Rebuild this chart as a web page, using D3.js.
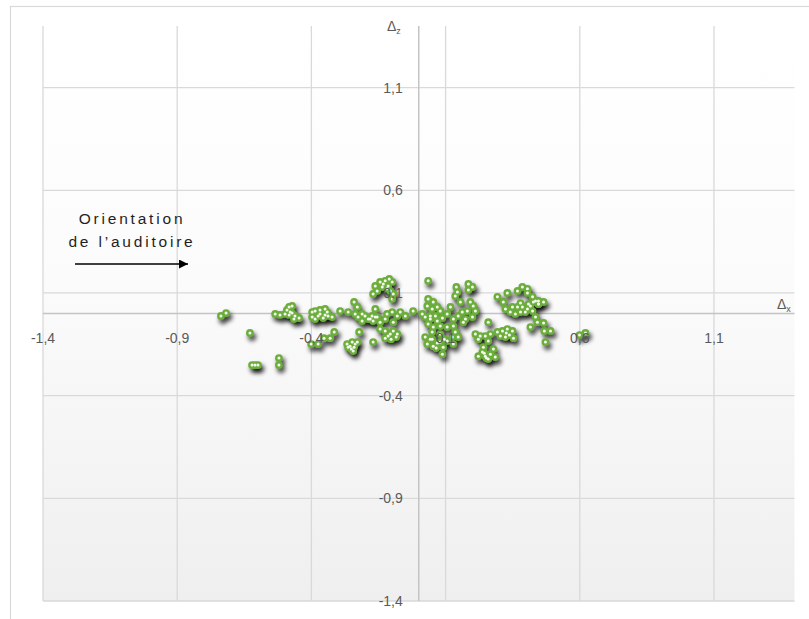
<!DOCTYPE html>
<html>
<head>
<meta charset="utf-8">
<script src="https://cdn.jsdelivr.net/npm/d3@7"></script>
<style>
  html, body { margin: 0; padding: 0; background: #ffffff; }
  svg { display: block; }
</style>
</head>
<body>
<svg id="chart" width="809" height="619"></svg>
<script>
// ---- data (Δx, Δz) ----
const dx = [
  -0.737,-0.718,-0.629,-0.621,-0.610,-0.599,-0.521,-0.521,-0.535,-0.517,
  -0.483,-0.472,-0.491,-0.479,-0.483,-0.465,-0.446,-0.498,
  -0.397,-0.386,-0.368,-0.349,-0.341,-0.386,-0.356,-0.338,-0.323,-0.375,-0.397,
  -0.293,-0.263,-0.401,-0.375,-0.353,-0.330,-0.315,-0.267,-0.248,-0.229,-0.241,
  -0.244,-0.263,-0.222,-0.170,
  -0.241,-0.229,-0.237,-0.226,-0.211,-0.200,-0.188,-0.174,-0.162,-0.170,-0.211,
  -0.155,-0.144,-0.125,-0.118,-0.099,-0.080,-0.095,-0.144,-0.125,-0.095,-0.125,
  -0.103,-0.084,-0.080,
  -0.162,-0.144,-0.125,-0.110,-0.099,-0.114,-0.136,-0.155,-0.170,-0.095,-0.099,
  -0.069,-0.050,-0.021,0.035,0.035,0.054,0.032,0.050,0.069,0.080,0.013,0.024,
  0.043,0.062,0.088,0.106,0.118,0.129,0.147,0.162,0.155,0.181,0.192,0.203,0.211,
  0.200,0.174,0.166,0.035,0.054,0.080,0.106,0.129,0.050,0.080,0.024,0.043,0.032,
  0.054,0.080,0.106,0.125,0.136,0.147,0.129,0.091,0.088,0.140,0.144,0.185,0.200,
  0.185,0.136,0.259,
  0.211,0.229,0.222,0.248,0.267,0.259,0.241,0.237,0.222,0.248,0.267,0.278,0.259,
  0.368,0.386,0.405,0.405,0.424,0.446,0.465,0.446,0.427,0.416,0.405,0.386,0.368,
  0.349,0.323,0.315,0.330,0.293,0.341,0.360,0.379,0.397,0.424,0.435,0.442,0.465,
  0.468,0.491,0.472,0.416,0.293,0.312,0.330,0.349,0.304,0.323,0.353,0.285,
  0.599,0.621,
  -0.256,-0.237,-0.251,-0.132,-0.118,-0.106,0.050,0.069,0.095,0.065,
  0.244,0.252,0.435,0.446,0.409,0.379,0.326,0.338,-0.106,-0.114,
  -0.368,-0.349,-0.472,-0.461,-0.162,-0.181,0.043,0.069
];
const dz = [
  -0.012,0.002,-0.095,-0.251,-0.251,-0.251,-0.217,-0.251,-0.002,-0.007,
  0.032,0.037,0.017,0.007,-0.007,-0.027,-0.022,-0.002,
  0.007,0.012,0.017,0.022,0.007,-0.027,-0.022,-0.012,-0.017,-0.012,-0.017,
  0.012,0.007,-0.149,-0.149,-0.120,-0.120,-0.090,-0.149,-0.139,-0.139,-0.164,
  -0.183,-0.164,-0.090,-0.139,
  0.056,0.032,-0.002,-0.017,-0.037,-0.012,-0.027,-0.012,0.022,-0.037,-0.002,
  -0.017,-0.042,-0.027,-0.002,0.007,-0.012,-0.042,-0.076,-0.085,-0.085,-0.120,
  -0.125,-0.115,-0.100,
  0.134,0.154,0.159,0.168,0.154,0.134,0.129,0.110,0.095,0.095,0.071,
  0.007,-0.012,0.012,0.159,0.071,0.056,0.037,0.022,0.032,0.012,-0.002,-0.017,
  -0.012,-0.012,-0.022,-0.002,0.032,-0.027,-0.012,0.007,0.056,0.012,0.056,0.037,0.012,
  -0.017,-0.027,-0.042,-0.051,-0.066,-0.061,-0.066,-0.061,-0.090,-0.100,-0.115,-0.125,-0.149,
  -0.159,-0.139,-0.134,-0.115,-0.090,-0.115,-0.149,-0.164,-0.198,0.129,0.105,0.144,0.129,
  0.115,0.085,-0.042,
  -0.100,-0.110,-0.125,-0.110,-0.100,-0.134,-0.164,-0.188,-0.208,-0.208,-0.198,-0.173,-0.222,
  0.110,0.129,0.120,0.100,0.081,0.061,0.056,0.046,0.056,0.037,0.022,0.032,0.032,
  0.032,0.022,0.056,0.100,0.081,0.007,-0.002,0.007,0.007,0.012,-0.017,-0.042,-0.046,
  -0.085,-0.085,-0.139,-0.066,-0.090,-0.085,-0.076,-0.085,-0.110,-0.115,-0.120,-0.212,
  -0.105,-0.095,
  -0.159,-0.149,-0.173,0.144,0.120,0.110,-0.125,-0.144,-0.125,-0.168,
  -0.193,-0.217,0.061,0.046,0.046,0.051,-0.095,-0.105,-0.100,-0.110,
  -0.002,-0.007,0.002,-0.012,-0.017,-0.027,-0.027,-0.037
];
const tickValues = [-1.4, -0.9, -0.4, 0.1, 0.6, 1.1];
const xDomain = [-1.4, 1.4];
const yDomain = [-1.4, 1.4];
const annotationLines = ["Orientation", "de l\u2019auditoire"];

// ---- layout ----
const svg = d3.select("#chart");
const plot = { left: 43, right: 794.5, top: 26, bottom: 601 };
const x = d3.scaleLinear().domain(xDomain).range([plot.left, plot.right]);
const y = d3.scaleLinear().domain(yDomain).range([plot.bottom, plot.top]);
const locale = d3.formatLocale({decimal: ",", thousands: " ", grouping: [3], currency: ["", ""], minus: "-"});
const fmt = locale.format(".1f");

const defs = svg.append("defs");
const grad = defs.append("linearGradient").attr("id", "bg").attr("x1", 0).attr("y1", 0).attr("x2", 0).attr("y2", 1);
grad.append("stop").attr("offset", "0%").attr("stop-color", "#ffffff");
grad.append("stop").attr("offset", "45%").attr("stop-color", "#fbfbfb");
grad.append("stop").attr("offset", "100%").attr("stop-color", "#efefef");
const blur = defs.append("filter").attr("id", "shadow").attr("x", "-50%").attr("y", "-50%").attr("width", "200%").attr("height", "200%");
blur.append("feGaussianBlur").attr("stdDeviation", 2);

// outer chart border
svg.append("rect").attr("x", 10.5).attr("y", 6.5).attr("width", 820).attr("height", 640)
  .attr("fill", "#ffffff").attr("stroke", "#d9d9d9").attr("stroke-width", 1.2);

// plot background
svg.append("rect").attr("x", plot.left).attr("y", plot.top)
  .attr("width", plot.right - plot.left).attr("height", plot.bottom - plot.top)
  .attr("fill", "url(#bg)");

// gridlines
const grid = svg.append("g").attr("stroke", "#d9d9d9").attr("stroke-width", 1.3);
grid.selectAll("line.v").data(tickValues).join("line")
  .attr("x1", d => x(d)).attr("x2", d => x(d)).attr("y1", plot.top).attr("y2", plot.bottom);
grid.selectAll("line.h").data(tickValues).join("line")
  .attr("y1", d => y(d)).attr("y2", d => y(d)).attr("x1", plot.left).attr("x2", plot.right);

// axis lines through zero
svg.append("line").attr("x1", x(0)).attr("x2", x(0)).attr("y1", plot.top).attr("y2", plot.bottom)
  .attr("stroke", "#c4c4c4").attr("stroke-width", 1.5);
svg.append("line").attr("x1", plot.left).attr("x2", plot.right).attr("y1", y(0)).attr("y2", y(0))
  .attr("stroke", "#c4c4c4").attr("stroke-width", 1.5);

// points
const pts = dx.map((v, i) => ({x: v, z: dz[i]}));
svg.append("g").attr("filter", "url(#shadow)")
  .selectAll("circle").data(pts).join("circle")
  .attr("cx", d => x(d.x) + 2.2).attr("cy", d => y(d.z) + 3.8).attr("r", 4.4)
  .attr("fill", "#000000").attr("fill-opacity", 0.66);
svg.append("g").selectAll("circle").data(pts).join("circle")
  .attr("cx", d => x(d.x)).attr("cy", d => y(d.z)).attr("r", 3.9)
  .attr("fill", "#6cae3b");
svg.append("g").selectAll("circle").data(pts).join("circle")
  .attr("cx", d => x(d.x)).attr("cy", d => y(d.z)).attr("r", 1.5)
  .attr("fill", "#f3f9ee");

// tick labels
const labelStyle = sel => sel.attr("font-family", "'Liberation Sans', Arial, sans-serif")
  .attr("font-size", 14).attr("fill", "#595959");
svg.append("g").selectAll("text").data(tickValues).join("text")
  .call(labelStyle).attr("text-anchor", "middle")
  .attr("x", d => x(d)).attr("y", y(0) + 29).text(d => fmt(d));
svg.append("g").selectAll("text").data(tickValues).join("text")
  .call(labelStyle).attr("text-anchor", "end")
  .attr("x", x(0) - 16).attr("y", d => y(d) + 5).text(d => fmt(d));

// axis titles
const zt = svg.append("text").call(labelStyle).attr("x", 387).attr("y", 31);
zt.append("tspan").text("\u0394");
zt.append("tspan").attr("font-size", 9).attr("dy", 3).text("z");
const xt = svg.append("text").call(labelStyle).attr("x", 777).attr("y", 309);
xt.append("tspan").text("\u0394");
xt.append("tspan").attr("font-size", 9).attr("dy", 3).text("x");

// annotation
svg.append("g").selectAll("text").data(annotationLines).join("text")
  .attr("font-family", "'Liberation Sans', Arial, sans-serif").attr("font-size", 15.5)
  .attr("letter-spacing", 2.8).attr("fill", "#1f1f1f").attr("text-anchor", "middle")
  .attr("x", 132).attr("y", (d, i) => 224 + i * 23).text(d => d);
defs.append("marker").attr("id", "arrow").attr("viewBox", "0 0 10 10").attr("refX", 10).attr("refY", 5)
  .attr("markerWidth", 11).attr("markerHeight", 9).attr("markerUnits", "userSpaceOnUse").attr("orient", "auto")
  .append("path").attr("d", "M0,0L10,5L0,10Z").attr("fill", "#000");
svg.append("line").attr("x1", 75).attr("x2", 188).attr("y1", 264).attr("y2", 264)
  .attr("stroke", "#000").attr("stroke-width", 1.3).attr("marker-end", "url(#arrow)");
</script>
</body>
</html>
